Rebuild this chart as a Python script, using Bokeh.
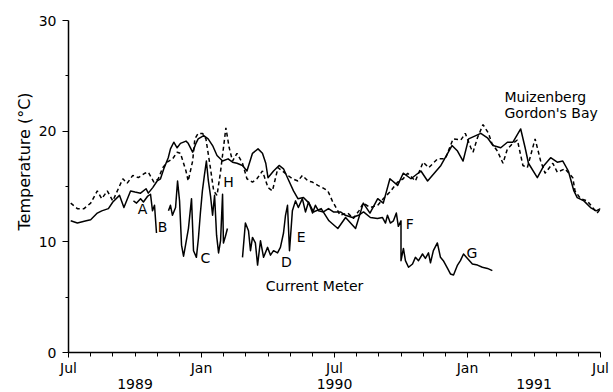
import numpy as np
from bokeh.plotting import figure
from bokeh.models import Range1d, FixedTicker, LinearAxis, Title, ColumnDataSource
from bokeh.core.properties import value
from bokeh.embed import file_html
from bokeh.resources import INLINE

FONT = "DejaVu Sans"

# x values are months since 1 July 1989
tick_months = [0, 6, 12, 18, 24]
tick_labels = ["Jul", "Jan", "Jul", "Jan", "Jul"]
year_months = [3, 12, 21]
year_labels = ["1989", "1990", "1991"]

muiz_month = [0.1,0.4,0.8,1.0,1.3,1.5,1.8,2.0,2.3,2.5,2.8,3.0,3.25,3.5,3.6,3.8,4.0,4.15,4.3,4.5,
              4.6,4.75,4.9,5.05,5.3,5.4,5.6,5.75,5.85,6.1,6.3,6.5,6.7,6.95,7.2,7.4,7.6,7.85,8.05,8.3,
              8.55,8.75,8.9,9.0,9.25,9.5,9.7,9.9,10.15,10.35,10.6,10.85,11.05,11.4,11.75,12.15,12.5,12.95,13.3,13.6,
              13.95,14.2,14.5,14.85,15.1,15.45,15.9,16.2,16.8,17.3,17.55,17.8,18.05,18.6,18.9,19.15,19.5,19.8,20.05,20.4,
              20.6,20.75,21.15,21.45,21.75,22.05,22.3,22.55,22.8,22.95,23.25,23.55,23.8,24.0]
muiz_temp = [11.9,11.7,11.9,12.0,12.6,12.8,13.0,13.6,14.2,13.1,14.6,14.5,14.4,14.8,14.4,14.9,15.5,15.7,16.6,17.6,
             18.4,19.0,18.5,18.9,19.1,18.9,18.1,18.9,19.3,19.6,19.3,18.7,17.8,17.3,17.5,17.2,17.1,16.9,16.4,18.0,
             18.4,18.0,17.1,15.8,16.4,16.9,16.6,15.7,14.6,13.9,14.0,13.5,12.7,13.0,11.9,11.2,12.2,11.2,13.5,12.6,
             13.9,13.5,15.7,15.1,16.2,15.7,16.4,15.5,16.9,18.7,18.2,17.3,19.3,19.8,19.4,18.7,18.5,19.0,19.0,20.2,
             18.5,17.1,15.8,16.9,17.6,17.2,17.3,16.4,14.6,14.0,13.7,13.1,12.8,13.0]

gordon_month = [0.1,0.4,0.7,1.0,1.3,1.5,1.75,2.0,2.45,2.65,2.9,3.15,3.45,3.6,3.85,4.05,4.25,4.45,4.7,4.9,
                5.05,5.3,5.4,5.6,5.7,5.85,6.05,6.2,6.4,6.55,6.7,6.85,7.1,7.25,7.4,7.6,7.85,8.05,8.3,8.5,
                8.75,9.0,9.2,9.45,9.65,9.9,10.1,10.35,10.55,10.8,11.0,11.25,11.45,11.7,11.9,12.15,12.25,12.6,12.85,13.1,
                13.3,13.6,13.95,14.2,14.5,14.85,15.1,15.3,15.65,16.0,16.25,16.65,17.0,17.35,17.7,17.9,18.15,18.25,18.45,18.7,
                18.95,19.1,19.35,19.6,19.8,20.05,20.25,20.5,20.7,21.05,21.3,21.5,21.85,22.05,22.4,22.75,22.85,23.1,23.4,23.65,
                23.85,24.0]
gordon_temp = [13.5,13.0,13.0,13.5,14.6,13.9,14.6,13.7,15.7,15.3,16.0,15.8,16.2,16.3,15.4,15.7,16.7,17.2,17.5,18.1,
               18.0,16.4,15.5,17.3,19.3,19.8,19.8,19.3,16.7,14.6,14.2,16.2,20.3,18.5,17.3,18.0,17.1,15.7,15.4,15.7,
               16.4,14.9,14.6,16.7,16.4,16.0,15.7,15.5,16.0,15.5,15.4,15.1,14.9,14.6,13.7,12.8,12.4,12.6,12.1,12.8,
               13.5,13.1,13.3,13.9,14.5,15.4,15.7,16.2,15.5,17.2,16.7,17.5,17.5,19.3,19.2,19.8,18.5,18.1,19.4,20.6,
               19.8,18.9,18.2,17.1,18.4,18.9,19.2,16.9,16.7,19.3,17.3,16.2,17.1,16.3,16.6,15.8,14.6,13.9,13.7,13.1,
               12.6,13.0]

# current meter record (None = gap between deployments)
cm_month = [2.93,3.07,3.25,3.38,3.56,3.7,3.79,3.88,3.97, None,
            4.51,4.6,4.69,4.83,4.92,5.01,5.1,5.19,5.28,5.41,5.55,5.64,5.77,5.86,5.95,6.04,6.13,6.22,6.31,6.41,
            6.5,6.59,6.68,6.77,6.86,6.95,6.99,7.08,7.17, None,
            7.85,7.98,8.12,8.21,8.3,8.43,8.53,8.66,8.8,8.98,9.11,9.25,9.43,9.56,9.7,9.79,9.88,9.97,10.1,10.24,
            10.37,10.55,10.69,10.83,11.01,11.14,11.28,11.5,11.73,11.95,12.27,12.49,12.81,13.08,13.31,13.62,13.94,14.16,14.3,14.39,
            14.52,14.66,14.79,14.88,15.0,15.0,15.11,15.2,15.34,15.52,15.65,15.79,15.97,16.1,16.24,16.33,16.46,16.64,16.78,16.91,
            17.1,17.23,17.37,17.55,17.68,17.82,18.0,18.22,18.45,18.67,18.9,19.12]
cm_temp = [13.7,13.5,13.9,13.6,14.1,14.3,12.8,13.3,10.8, None,
           12.8,13.3,12.4,13.1,15.5,13.7,9.7,8.7,9.7,11.2,13.9,9.2,8.6,10.3,12.6,14.6,16.0,17.3,15.5,14.1,
           12.4,14.2,10.6,9.0,10.1,14.3,9.9,10.5,11.2, None,
           8.6,11.7,11.0,9.2,10.4,9.9,7.9,10.1,8.6,9.5,8.8,9.2,9.0,9.5,10.8,12.4,13.3,9.2,12.8,13.7,
           13.1,13.9,12.7,13.6,12.6,13.3,12.8,12.7,13.0,12.7,12.7,12.4,12.2,12.4,12.7,12.2,12.1,12.2,11.7,12.4,
           11.7,11.9,12.6,11.4,11.9,8.3,9.4,8.3,7.7,8.0,8.6,8.3,8.9,8.5,9.0,8.1,9.2,9.9,8.6,8.3,
           7.6,7.1,7.0,7.9,8.3,8.9,8.5,8.0,7.9,7.7,7.6,7.4]

letters = ["A", "B", "C", "H", "D", "E", "F", "G"]
letter_month = [3.34, 4.24, 6.18, 7.22, 9.83, 10.5, 15.4, 18.2]
letter_temp = [13.0, 11.3, 8.5, 15.4, 8.2, 10.4, 11.65, 9.0]

site_labels = ["Muizenberg", "Gordon's  Bay", "Current Meter"]
site_month = [19.67, 19.67, 8.9]
site_temp = [23.1, 21.6, 6.05]

p = figure(width=613, height=392, x_range=Range1d(0, 24), y_range=Range1d(0, 30),
           output_backend="svg", toolbar_location=None,
           min_border_left=68, min_border_right=13, min_border_top=20, min_border_bottom=40)
p.outline_line_color = None
p.grid.visible = False
p.background_fill_color = "white"
p.border_fill_color = "white"

# lines
p.line(muiz_month, muiz_temp, line_color="black", line_width=1.5, line_join="round")
p.line(gordon_month, gordon_temp, line_color="black", line_width=1.5, line_dash="4 3")
p.line(np.array(cm_month, dtype=float), np.array(cm_temp, dtype=float),
       line_color="black", line_width=1.5, line_join="round")

# text annotations
lsrc = ColumnDataSource(dict(x=letter_month, y=letter_temp, t=letters))
p.text(x="x", y="y", text="t", source=lsrc, text_font=value(FONT), text_font_size="14px",
       text_align="center", text_baseline="middle", text_color="black")
ssrc = ColumnDataSource(dict(x=site_month, y=site_temp, t=site_labels))
p.text(x="x", y="y", text="t", source=ssrc, text_font=value(FONT), text_font_size="14px",
       text_align="left", text_baseline="middle", text_color="black")

# y axis
ya = p.yaxis[0]
ya.ticker = FixedTicker(ticks=[0, 10, 20, 30], minor_ticks=[5, 15, 25])
ya.major_tick_in = 0
ya.major_tick_out = 6
ya.minor_tick_in = 0
ya.minor_tick_out = 3
ya.axis_line_width = 1.5
ya.major_label_text_font = FONT
ya.major_label_text_font_size = "14px"
ya.major_label_standoff = 6
ya.major_label_text_color = "black"

# x axis (months)
xa = p.xaxis[0]
xa.ticker = FixedTicker(ticks=tick_months, minor_ticks=list(range(25)))
xa.major_label_overrides = {m: s for m, s in zip(tick_months, tick_labels)}
xa.major_tick_in = 0
xa.major_tick_out = 5
xa.minor_tick_in = 0
xa.minor_tick_out = 4
xa.axis_line_width = 1.5
xa.major_label_text_font = FONT
xa.major_label_text_font_size = "14px"
xa.major_label_standoff = 2
xa.major_label_text_color = "black"

# year axis
yr = LinearAxis(ticker=FixedTicker(ticks=year_months, minor_ticks=[]),
                major_label_overrides={m: s for m, s in zip(year_months, year_labels)},
                axis_line_color=None, major_tick_line_color=None, minor_tick_line_color=None,
                major_tick_in=0, major_tick_out=0, major_label_standoff=0,
                major_label_text_font=FONT, major_label_text_font_size="14px",
                major_label_text_color="black")
p.add_layout(yr, "below")

# y axis title
p.add_layout(Title(text="Temperature (°C)", align="left", offset=122, standoff=4,
                   text_font=FONT, text_font_size="16px", text_font_style="normal",
                   text_color="black"), "left")

open("out.html", "w").write(file_html(p, INLINE))
